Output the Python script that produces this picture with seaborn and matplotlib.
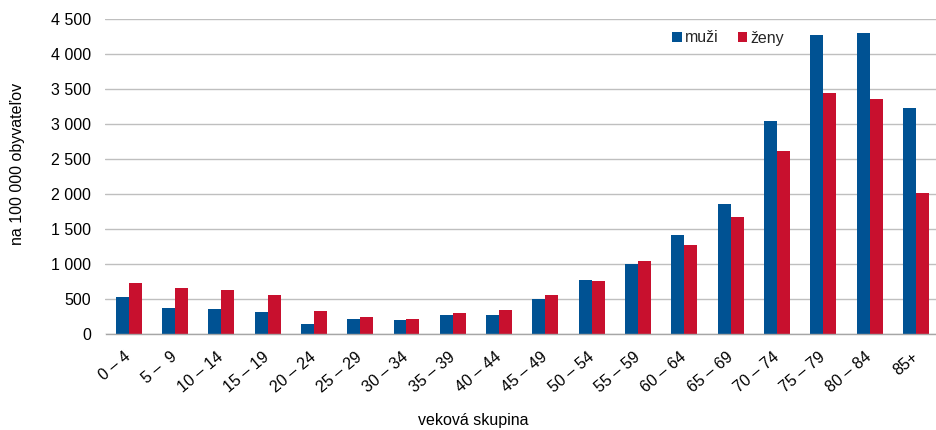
import matplotlib
matplotlib.use("Agg")
import matplotlib.pyplot as plt
import matplotlib.ticker as mticker
from matplotlib.patches import Patch
import seaborn as sns
import pandas as pd
import numpy as np

categories = ["0 – 4", "5 –  9", "10 – 14", "15 – 19", "20 – 24", "25 – 29",
              "30 – 34", "35 – 39", "40 – 44", "45 – 49", "50 – 54", "55 – 59",
              "60 – 64", "65 – 69", "70 – 74", "75 – 79", "80 – 84", "85+"]
muzi = [525, 367, 357, 319, 143, 210, 195, 267, 276, 500, 771, 1004,
        1410, 1857, 3041, 4267, 4296, 3233]
zeny = [729, 657, 624, 557, 329, 248, 210, 295, 343, 552, 757, 1047,
        1267, 1671, 2610, 3443, 3353, 2019]
series_names = ["muži", "ženy"]
colors = ["#005293", "#C8102E"]
yticks = [0, 500, 1000, 1500, 2000, 2500, 3000, 3500, 4000, 4500]

df = pd.DataFrame({
    "skupina": categories * 2,
    "pohlavie": [series_names[0]] * len(categories) + [series_names[1]] * len(categories),
    "hodnota": muzi + zeny,
})

sns.set_theme(style="white")
plt.rcParams["font.family"] = ["Liberation Sans", "DejaVu Sans"]

W, H = 937, 430
fig = plt.figure(figsize=(W / 100, H / 100), dpi=100)
left, right, top, bottom = 105.5, 939.0, 19.0, 334.0
ax = fig.add_axes([left / W, 1 - bottom / H, (right - left) / W, (bottom - top) / H])

sns.barplot(data=df, x="skupina", y="hodnota", hue="pohlavie",
            order=categories, hue_order=series_names, palette=colors,
            width=0.56, gap=0, linewidth=0, saturation=1, legend=False, ax=ax)

ax.set_xlim(-0.5, len(categories) - 0.5)
ax.set_ylim(0, 4500)
ax.set_yticks(yticks)
ax.yaxis.set_major_formatter(mticker.FuncFormatter(lambda v, p: f"{int(v):,}".replace(",", " ")))
ax.yaxis.grid(True, color="#BFBFBF", linewidth=1)
ax.xaxis.grid(False)
ax.set_axisbelow(True)

for s in ["top", "right", "left"]:
    ax.spines[s].set_visible(False)
ax.spines["bottom"].set_color("#A6A6A6")
ax.spines["bottom"].set_linewidth(1)

ax.tick_params(axis="y", length=0, pad=10.5, labelsize=11.5, labelcolor="#000000")
ax.set_xticks(np.arange(len(categories)))
ax.set_xticklabels(categories, rotation=40, ha="right", va="center", rotation_mode="anchor")
ax.tick_params(axis="x", which="major", length=0, pad=15, labelsize=11.5, labelcolor="#000000")
ax.set_xticks(np.arange(len(categories) + 1) - 0.5, minor=True)
ax.tick_params(axis="x", which="minor", length=5, width=1, color="#A6A6A6", direction="out")

ax.set_xlabel("veková skupina", fontsize=11.5, color="#000000")
ax.xaxis.label.set_va("center")
ax.xaxis.set_label_coords((473 - left) / (right - left), (bottom - 421) / (bottom - top))
ax.set_ylabel("na 100 000 obyvateľov", fontsize=11.5, color="#000000")
ax.yaxis.label.set_va("center")
ax.yaxis.set_label_coords((17 - left) / (right - left), (bottom - 163.5) / (bottom - top))

handles = [Patch(facecolor=c, edgecolor="none") for c in colors]
ax.legend(handles, series_names, loc="center",
          bbox_to_anchor=((728 - left) / (right - left), (bottom - 38) / (bottom - top)),
          ncol=2, frameon=False, fontsize=11.5, handlelength=0.6, handleheight=0.6,
          handletextpad=0.2, columnspacing=1.2, borderpad=0)

fig.savefig("out.png", dpi=100)
